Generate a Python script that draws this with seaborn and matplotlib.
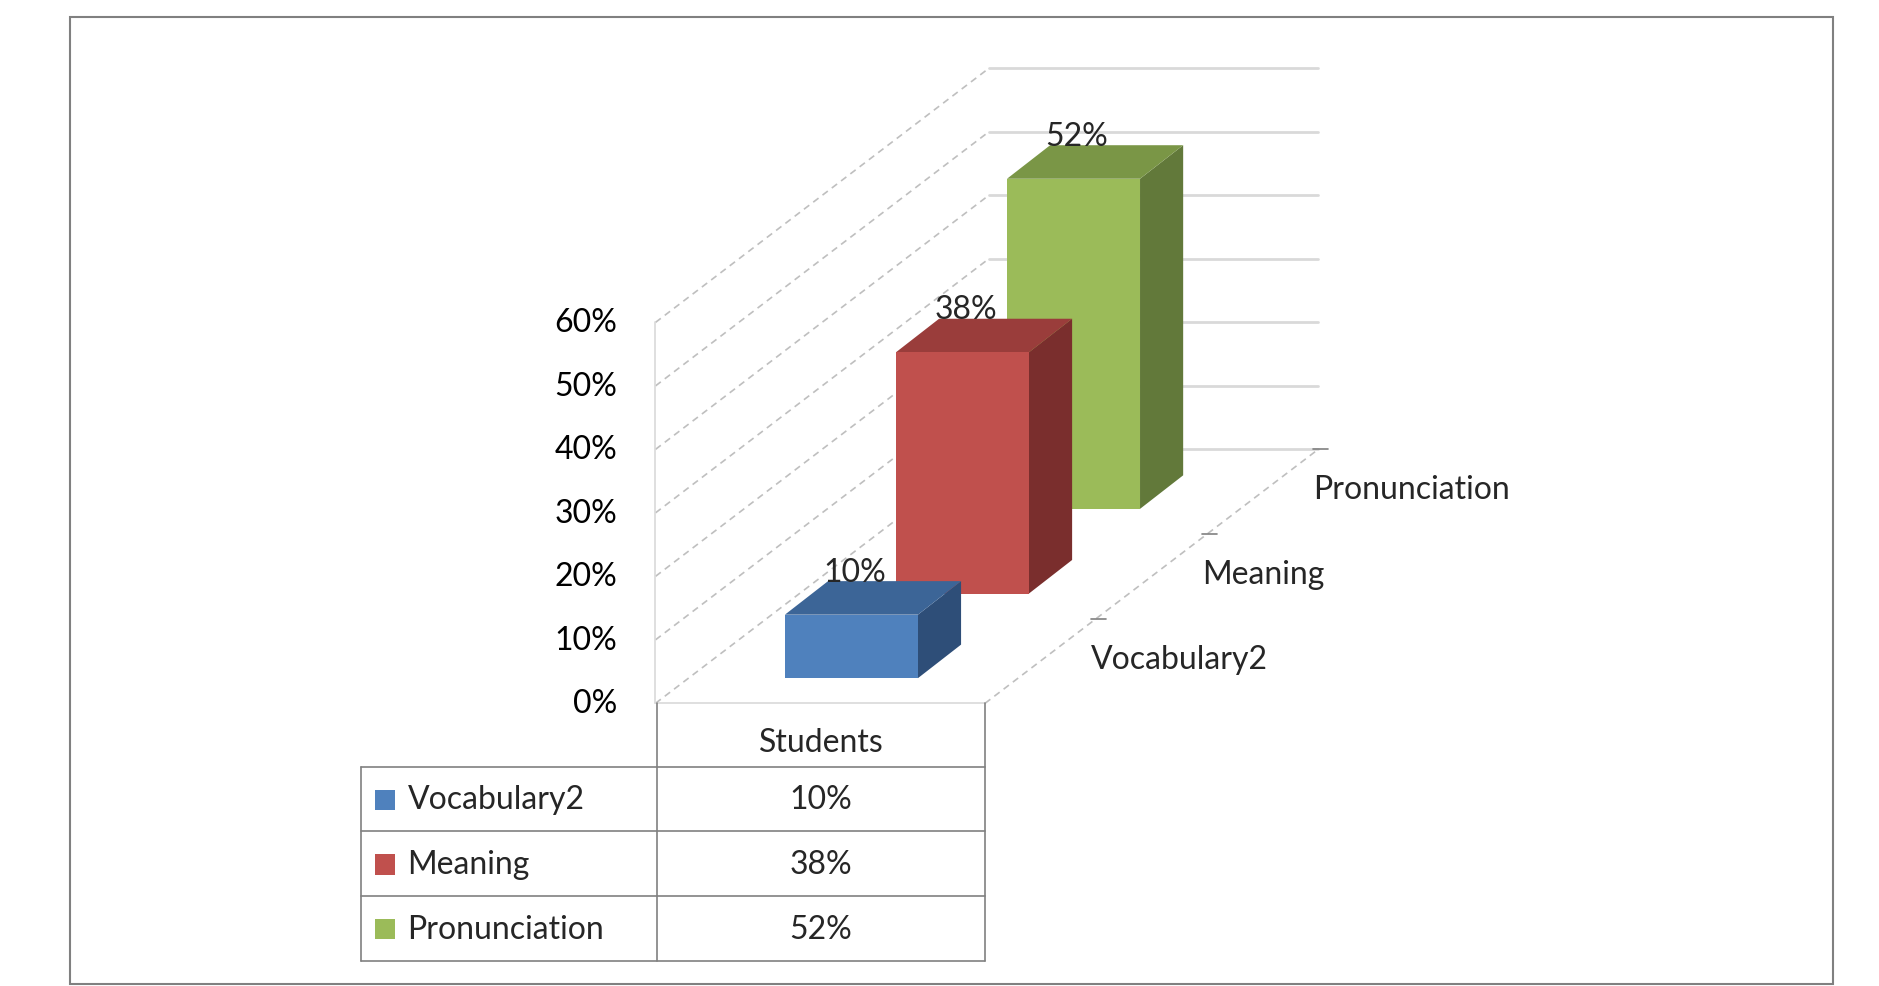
import matplotlib
matplotlib.use("Agg")
import matplotlib.pyplot as plt
from matplotlib.patches import Polygon, Rectangle
import seaborn as sns

sns.set_theme(style="white")
plt.rcParams['font.family'] = ['Lato', 'DejaVu Sans']

series = ["Vocabulary2", "Meaning", "Pronunciation"]
values = [10, 38, 52]
category = "Students"
ticks = [0, 10, 20, 30, 40, 50, 60]
front_c = ["#4F81BD", "#C0504D", "#9BBB59"]
top_c = ["#3C6597", "#9A3D3B", "#7A9646"]
side_c = ["#2E4E78", "#7A2E2D", "#62793A"]

FS = 23
W, H = 1568, 824
fig = plt.figure(figsize=(18.79, 9.87), dpi=100)
ax = fig.add_axes([0, 0, 1, 1])
ax.set_xlim(0, W); ax.set_ylim(H, 0); ax.axis("off")

x0, y0, k = 547, 588, 318 / 60.0
DX, DY = 278, -212
dx, dy = DX / 3, DY / 3
wx, bw = 822 - 547, 111
bdx, bdy = 36, -28

ax.add_patch(Rectangle((58, 15), 1530 - 58, 822 - 15, fill=False, ec="#808080", lw=1.5))

for t in ticks:
    y = y0 - t * k
    ax.plot([x0, x0 + DX], [y, y + DY], color="#BFBFBF", lw=1.2, ls=(0, (4, 3)), zorder=1)
    ax.plot([x0 + DX, x0 + DX + wx], [y + DY, y + DY], color="#D9D9D9", lw=2, zorder=1)
    ax.text(x0 - 32, y, f"{t}%", ha="right", va="center", fontsize=FS, color="black")
ax.plot([x0, x0], [y0, y0 - 60 * k], color="#D9D9D9", lw=1.2, zorder=1)
ax.plot([x0 + wx, x0 + wx + DX], [y0, y0 + DY], color="#BFBFBF", lw=1.2, ls=(0, (4, 3)), zorder=1)
ax.plot([x0, x0 + wx], [y0, y0], color="#D9D9D9", lw=1.2, zorder=1)

for i in reversed(range(3)):
    v = values[i]
    bx = 655 + dx * i
    by = y0 - 21 + dy * i
    ty = by - v * k
    ax.add_patch(Polygon([(bx + bw, by), (bx + bw + bdx, by + bdy), (bx + bw + bdx, ty + bdy), (bx + bw, ty)],
                         closed=True, fc=side_c[i], ec="none", zorder=3))
    ax.add_patch(Polygon([(bx, ty), (bx + bw, ty), (bx + bw + bdx, ty + bdy), (bx + bdx, ty + bdy)],
                         closed=True, fc=top_c[i], ec="none", zorder=3))
    ax.add_patch(Rectangle((bx, ty), bw, v * k, fc=front_c[i], ec="none", zorder=3))
    ax.text(bx + bw / 2 + 3, ty + bdy - 8, f"{v}%", ha="center", va="center", fontsize=FS, zorder=4)
    tx = x0 + wx + dx * (i + 1)
    tyy = y0 + dy * (i + 1)
    ax.plot([tx - 4, tx + 8], [tyy, tyy], color="#808080", lw=1.2)
    ax.text(x0 + wx + dx * (i + 0.5) + 42, y0 + dy * (i + 0.5) - 2, series[i],
            ha="left", va="center", fontsize=FS)

cx = [301, 548, 822]
ry = [588, 641, 695, 749, 803]
lc = "#808080"
ax.plot([cx[1], cx[1]], [ry[0], ry[-1]], color=lc, lw=1.2)
ax.plot([cx[2], cx[2]], [ry[0], ry[-1]], color=lc, lw=1.2)
ax.plot([cx[0], cx[0]], [ry[1], ry[-1]], color=lc, lw=1.2)
for y in ry[1:]:
    ax.plot([cx[0], cx[2]], [y, y], color=lc, lw=1.2)
ax.text((cx[1] + cx[2]) / 2, (ry[0] + ry[1]) / 2 + 6, category, ha="center", va="center", fontsize=FS)
for i in range(3):
    yc = (ry[i + 1] + ry[i + 2]) / 2
    ax.add_patch(Rectangle((313, yc - 8), 17, 17, fc=front_c[i], ec="none"))
    ax.text(340, yc, series[i], ha="left", va="center", fontsize=FS)
    ax.text((cx[1] + cx[2]) / 2, yc, f"{values[i]}%", ha="center", va="center", fontsize=FS)

fig.savefig("out.png", dpi=100)
